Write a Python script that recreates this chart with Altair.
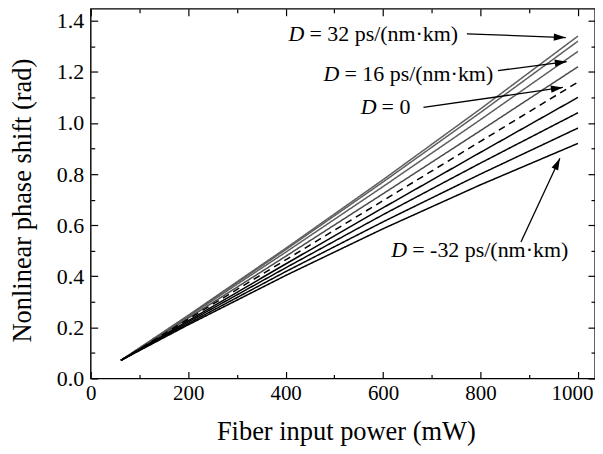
import math
import altair as alt
import pandas as pd

# ---------------- data ----------------
power_mw = [62, 200, 400, 600, 800, 1000]
dispersion = ["32", "24", "16", "8", "0", "-8", "-16", "-24", "-32"]
phase_d32 = [0.071, 0.247, 0.509, 0.778, 1.055, 1.340]
phase_d24 = [0.071, 0.245, 0.504, 0.769, 1.041, 1.320]
phase_d16 = [0.071, 0.242, 0.494, 0.751, 1.013, 1.280]
phase_d8 = [0.071, 0.236, 0.478, 0.723, 0.970, 1.220]
phase_d0 = [0.071, 0.232, 0.464, 0.696, 0.928, 1.160]
phase_dm8 = [0.071, 0.226, 0.448, 0.668, 0.885, 1.100]
phase_dm16 = [0.071, 0.221, 0.433, 0.641, 0.843, 1.040]
phase_dm24 = [0.071, 0.215, 0.418, 0.613, 0.800, 0.980]
phase_dm32 = [0.071, 0.210, 0.403, 0.586, 0.758, 0.920]
phase_series = [phase_d32, phase_d24, phase_d16, phase_d8, phase_d0,
                phase_dm8, phase_dm16, phase_dm24, phase_dm32]
line_colors = ["#5e5e5e", "#5e5e5e", "#5e5e5e", "#4a4a4a", "#000000",
               "#000000", "#000000", "#000000", "#000000"]
line_dashes = [[1, 0], [1, 0], [1, 0], [1, 0], [7, 5],
               [1, 0], [1, 0], [1, 0], [1, 0]]

# annotations
ann_x = [406, 478, 554, 617]
ann_y = [1.349, 1.193, 1.061, 0.503]
ann_rest = ["= 32 ps/(nm·km)", "= 16 ps/(nm·km)", "= 0", "= -32 ps/(nm·km)"]
arrow_x0 = [772, 836, 683, 883]
arrow_y0 = [1.349, 1.205, 1.061, 0.534]
arrow_x1 = [975, 977, 969, 963]
arrow_y1 = [1.334, 1.240, 1.139, 0.862]

x_ticks = [0, 100, 200, 300, 400, 500, 600, 700, 800, 900, 1000]
y_ticks = [0.0, 0.1, 0.2, 0.3, 0.4, 0.5, 0.6, 0.7, 0.8, 0.9, 1.0, 1.1, 1.2, 1.3, 1.4]

X_MAX = 1035
Y_MAX = 1.447
W = 506
H = 371
FONT = "Liberation Serif"

rows = []
for d, series in zip(dispersion, phase_series):
    for p, v in zip(power_mw, series):
        rows.append({"P": p, "phi": v, "D": d})
df = pd.DataFrame(rows)

kx = W / X_MAX
ky = H / Y_MAX
arrows = pd.DataFrame({
    "x0": arrow_x0, "y0": arrow_y0, "x1": arrow_x1, "y1": arrow_y1,
})
arrows["angle"] = [
    (math.degrees(math.atan2((b - a) * kx, (d - c) * ky)) + 360) % 360
    for a, b, c, d in zip(arrow_x0, arrow_x1, arrow_y0, arrow_y1)
]
ann = pd.DataFrame({"x": ann_x, "y": ann_y, "rest": ann_rest, "D": ["D"] * 4})

xscale = alt.Scale(domain=[0, X_MAX], nice=False, zero=False)
yscale = alt.Scale(domain=[0, Y_MAX], nice=False, zero=False)

xtick_size = {"expr": "datum.value % 200 === 0 ? -7 : -4"}
ytick_size = {"expr": "round(datum.value * 10) % 2 === 0 ? -7 : -4"}

common_axis = dict(domain=False, grid=False, tickColor="black", tickWidth=1.2,
                   labelFont=FONT, labelColor="black",
                   titleFont=FONT, titleFontWeight="normal", titleColor="black")

x_bottom = alt.Axis(values=x_ticks, tickSize=xtick_size, labelPadding=11,
                    labelFlush=False, format="d", labelFontSize=21,
                    labelOffset={"expr": "datum.value === 1000 ? -6 : 0"},
                    labelExpr="datum.value % 200 === 0 ? datum.label : ''",
                    title="Fiber input power (mW)", titleFontSize=26.5,
                    titleX=256, titleY=61, titleBaseline="alphabetic",
                    **common_axis)
y_left = alt.Axis(values=y_ticks, tickSize=ytick_size, labelPadding=14,
                  format=".1f", labelFontSize=22,
                  labelExpr="round(datum.value * 10) % 2 === 0 ? datum.label : ''",
                  title="Nonlinear phase shift (rad)", titleFontSize=26.5,
                  titleX=-68, titleY=192, titleAngle=270, titleBaseline="middle",
                  titleAlign="center", **common_axis)
x_top = alt.Axis(values=x_ticks, tickSize=xtick_size, labels=False, title=None,
                 orient="top", domain=False, grid=False, tickColor="black", tickWidth=1.2)
y_right = alt.Axis(values=y_ticks, tickSize=ytick_size, labels=False, title=None,
                   orient="right", domain=False, grid=False, tickColor="black", tickWidth=1.2)

lines = alt.Chart(df).mark_line(strokeWidth=1.5).encode(
    x=alt.X("P:Q", scale=xscale, axis=x_bottom),
    y=alt.Y("phi:Q", scale=yscale, axis=y_left),
    color=alt.Color("D:N", scale=alt.Scale(domain=dispersion, range=line_colors), legend=None),
    strokeDash=alt.StrokeDash("D:N", scale=alt.Scale(domain=dispersion, range=line_dashes), legend=None),
    detail="D:N",
)

mirror = alt.Chart(df).mark_point(opacity=0).encode(
    x=alt.X("P:Q", scale=xscale, axis=x_top),
    y=alt.Y("phi:Q", scale=yscale, axis=y_right),
)

shafts = alt.Chart(arrows).mark_rule(color="black", strokeWidth=1.3).encode(
    x=alt.X("x0:Q", scale=xscale, axis=None),
    y=alt.Y("y0:Q", scale=yscale, axis=None),
    x2="x1:Q",
    y2="y1:Q",
)

heads = alt.Chart(arrows).mark_point(
    shape="M 0 0 L 0.3 1 L -0.3 1 Z", filled=True, fill="black",
    opacity=1, size=576,
).encode(
    x=alt.X("x1:Q", scale=xscale, axis=None),
    y=alt.Y("y1:Q", scale=yscale, axis=None),
    angle=alt.Angle("angle:Q", scale=None),
)

text_d = alt.Chart(ann).mark_text(
    font=FONT, fontSize=22, fontStyle="italic", align="left", baseline="middle", color="black"
).encode(
    x=alt.X("x:Q", scale=xscale, axis=None),
    y=alt.Y("y:Q", scale=yscale, axis=None),
    text="D:N",
)
text_rest = alt.Chart(ann).mark_text(
    font=FONT, fontSize=22, align="left", baseline="middle", color="black", dx=21
).encode(
    x=alt.X("x:Q", scale=xscale, axis=None),
    y=alt.Y("y:Q", scale=yscale, axis=None),
    text="rest:N",
)

chart = alt.layer(lines, mirror, shafts, heads, text_d, text_rest).resolve_axis(
    x="independent", y="independent"
).properties(
    width=W, height=H,
    autosize=alt.AutoSizeParams(type="none"),
    padding={"left": 83, "top": 0, "right": 0, "bottom": 67},
    background="white",
).configure_view(stroke="black", strokeWidth=1.4)

chart.save("out.html", embed_options={"renderer": "svg", "actions": False})
